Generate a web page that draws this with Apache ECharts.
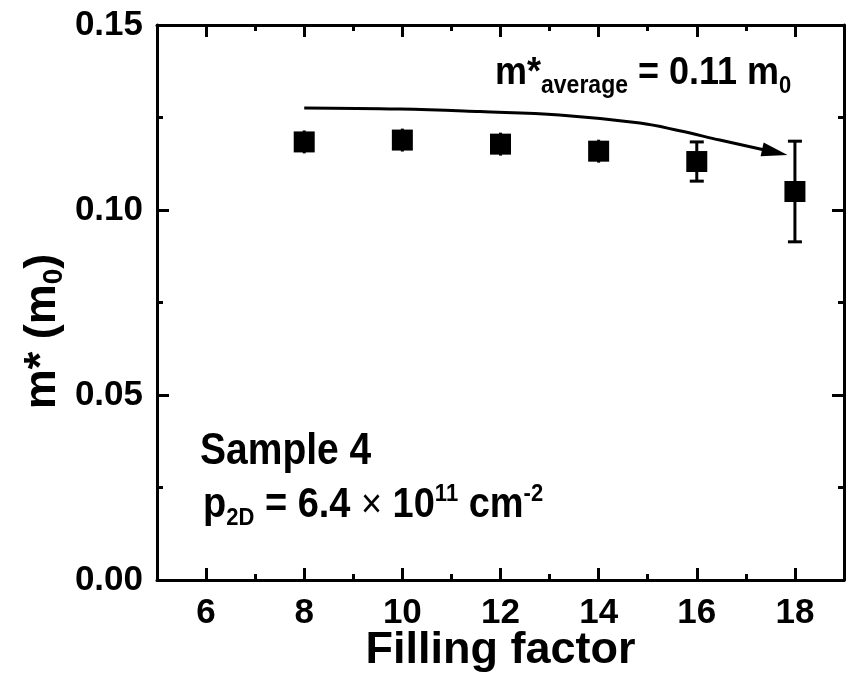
<!DOCTYPE html>
<html>
<head>
<meta charset="utf-8">
<script src="https://cdn.jsdelivr.net/npm/echarts@6/dist/echarts.min.js"></script>
<style>html,body{margin:0;padding:0;background:#fff;}#c{width:849px;height:675px;}</style>
</head>
<body>
<div id="c"></div>
<script>
// Data
const fillingFactor = [8, 10, 12, 14, 16, 18];
const effMass = [0.1184, 0.1189, 0.1178, 0.1159, 0.1131, 0.1050];
const effMassErr = [0.0031, 0.0031, 0.0031, 0.0031, 0.0053, 0.0136];
const arrowX = [8.0, 9.95, 11.58, 13.2, 14.84, 15.65, 16.47, 17.59];
const arrowY = [0.1276, 0.1273, 0.1266, 0.1257, 0.1235, 0.1214, 0.1189, 0.1156];
const xTicks = [6, 8, 10, 12, 14, 16, 18];
const yTicks = [0.00, 0.05, 0.10, 0.15];

const FONT = '"Liberation Sans", Arial, sans-serif';
const chart = echarts.init(document.getElementById('c'), null, {renderer: 'canvas'});

const points = fillingFactor.map((x, i) => [x, effMass[i]]);
const errData = fillingFactor.map((x, i) => [x, effMass[i] - effMassErr[i], effMass[i] + effMassErr[i]]);
const arrowData = arrowX.map((x, i) => [x, arrowY[i]]);

const axisLine = {show: true, onZero: false, lineStyle: {color: '#000', width: 3}};

// x axis: ticks at odd values drawn short, minor ticks (even values) drawn long
const xAxisBase = {
  type: 'value', min: 5, max: 19, interval: 2,
  axisLine: axisLine,
  axisTick: {show: true, inside: true, length: 6, lineStyle: {color: '#000', width: 3}},
  minorTick: {show: true, splitNumber: 2, length: 12, lineStyle: {color: '#000', width: 3}},
  splitLine: {show: false}
};
const yAxisBase = {
  type: 'value', min: 0, max: 0.15, interval: 0.05,
  axisLine: axisLine,
  axisTick: {show: true, inside: true, length: 12, lineStyle: {color: '#000', width: 3}},
  minorTick: {show: true, splitNumber: 2, length: 6, lineStyle: {color: '#000', width: 3}},
  splitLine: {show: false}
};

chart.setOption({
  animation: false,
  backgroundColor: '#fff',
  grid: {left: 157, right: 5, top: 25, bottom: 95, containLabel: false, outerBoundsMode: 'none'},
  xAxis: [Object.assign({}, xAxisBase, {
    position: 'bottom',
    axisLabel: {
      color: '#000', fontFamily: FONT, fontWeight: 'bold', fontSize: 35, margin: 16,
      customValues: xTicks
    },
    name: 'Filling factor', nameLocation: 'middle', nameGap: 48, nameMoveOverlap: false,
    nameTextStyle: {color: '#000', fontFamily: FONT, fontWeight: 'bold', fontSize: 45}
  }), Object.assign({}, xAxisBase, {
    position: 'top', axisLabel: {show: false}
  })],
  yAxis: [Object.assign({}, yAxisBase, {
    position: 'left',
    axisLabel: {
      color: '#000', fontFamily: FONT, fontWeight: 'bold', fontSize: 35, margin: 14,
      customValues: yTicks,
      formatter: v => v.toFixed(2)
    },
    name: '{a|m* (m}{s|0}{a|)}', nameLocation: 'middle', nameGap: 89, nameRotate: 90,
    nameMoveOverlap: false,
    nameTextStyle: {
      color: '#000', padding: [0, 58, 0, 0],
      rich: {
        a: {fontFamily: FONT, fontWeight: 'bold', fontSize: 45, color: '#000'},
        s: {fontFamily: FONT, fontWeight: 'bold', fontSize: 28, color: '#000', padding: [22, 0, 0, 0]}
      }
    }
  }), Object.assign({}, yAxisBase, {
    position: 'right', axisLabel: {show: false}
  })],
  series: [{
    type: 'custom',
    name: 'error',
    xAxisIndex: 0, yAxisIndex: 0,
    data: errData,
    renderItem: function (params, api) {
      const x = api.value(0);
      const lo = api.coord([x, api.value(1)]);
      const hi = api.coord([x, api.value(2)]);
      const cap = 7;
      const style = {stroke: '#000', lineWidth: 3, fill: null};
      const children = [
        {type: 'line', shape: {x1: lo[0], y1: lo[1], x2: hi[0], y2: hi[1]}, style: style}
      ];
      if (Math.abs(lo[1] - hi[1]) > 30) {
        children.push({type: 'line', shape: {x1: lo[0] - cap, y1: lo[1], x2: lo[0] + cap, y2: lo[1]}, style: style});
        children.push({type: 'line', shape: {x1: hi[0] - cap, y1: hi[1], x2: hi[0] + cap, y2: hi[1]}, style: style});
      }
      return {type: 'group', children: children};
    },
    z: 2
  }, {
    type: 'scatter',
    data: points,
    symbol: 'rect',
    symbolSize: 21,
    itemStyle: {color: '#000', opacity: 1},
    z: 3
  }, {
    type: 'line',
    data: arrowData,
    smooth: 0.4,
    showSymbol: true,
    symbol: function (v, p) { return p.dataIndex === arrowData.length - 1 ? 'triangle' : 'none'; },
    symbolSize: [14, 26],
    symbolRotate: -102.6,
    itemStyle: {color: '#000', opacity: 1},
    lineStyle: {color: '#000', width: 3},
    z: 4
  }],
  graphic: [{
    type: 'text', left: 495, top: 53, scaleY: 1.1,
    style: {
      text: '{m|m*}{s|average}{m| = 0.11 m}{z|0}',
      rich: {
        m: {fontFamily: FONT, fontWeight: 'bold', fontSize: 36, fill: '#000'},
        s: {fontFamily: FONT, fontWeight: 'bold', fontSize: 23, fill: '#000', padding: [24, 0, 0, 0]},
        z: {fontFamily: FONT, fontWeight: 'bold', fontSize: 22, fill: '#000', padding: [24, 0, 0, 0]}
      }
    }
  }, {
    type: 'text', left: 200, top: 430, scaleY: 1.13,
    style: {text: 'Sample 4', fontFamily: FONT, fontWeight: 'bold', fontSize: 39, fill: '#000'}
  }, {
    type: 'text', left: 203, top: 482, scaleY: 1.12,
    style: {
      text: '{m|p}{s|2D}{m| = 6.4 }{x|×}{m| 10}{u|11}{m| cm}{u|-2}',
      rich: {
        m: {fontFamily: FONT, fontWeight: 'bold', fontSize: 38, fill: '#000'},
        x: {fontFamily: FONT, fontWeight: 'normal', fontSize: 36, fill: '#000'},
        s: {fontFamily: FONT, fontWeight: 'bold', fontSize: 22, fill: '#000', padding: [22, 0, 0, 0]},
        u: {fontFamily: FONT, fontWeight: 'bold', fontSize: 22, fill: '#000', padding: [0, 0, 20, 0]}
      }
    }
  }]
});
</script>
</body>
</html>
